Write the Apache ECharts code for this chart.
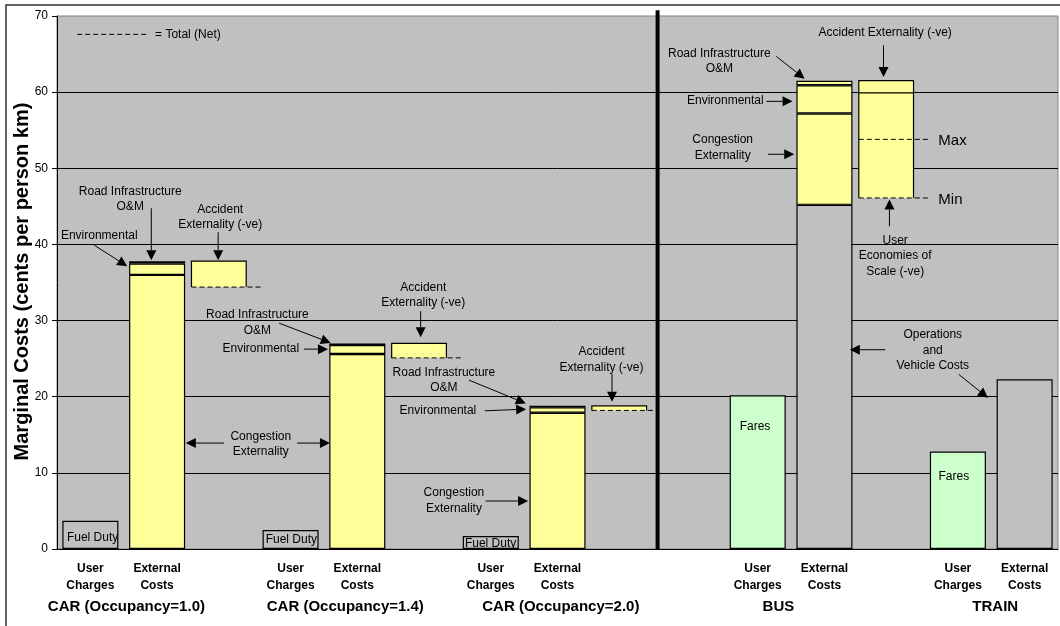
<!DOCTYPE html>
<html>
<head>
<meta charset="utf-8">
<script src="https://cdn.jsdelivr.net/npm/echarts@6/dist/echarts.min.js"></script>
<style>
  html, body { margin: 0; padding: 0; background: #fff; }
  #chart { width: 1060px; height: 626px; }
</style>
</head>
<body>
<div id="chart"></div>
<script>
// ---- data (cents per person km) ----
// Three slots per car occupancy, then an empty slot, bus (3) and train (2)
const categories = [
  'User\nCharges', 'External\nCosts', '',
  'User\nCharges', 'External\nCosts', '',
  'User\nCharges', 'External\nCosts', '',
  '',
  'User\nCharges', 'External\nCosts', '',
  'User\nCharges', 'External\nCosts'
];
const groupLabels = ['CAR (Occupancy=1.0)', 'CAR (Occupancy=1.4)', 'CAR (Occupancy=2.0)', 'BUS', 'TRAIN'];
const yTicks = [0, 10, 20, 30, 40, 50, 60, 70];

const fuelDuty      = [3.7, null, null, 2.5, null, null, 1.7, null, null, null, null, null, null, null, null];
const fares         = [null, null, null, null, null, null, null, null, null, null, 20.2, null, null, 12.8, null];
const operations    = [null, null, null, null, null, null, null, null, null, null, null, 45.2, null, null, 22.3];
const congestion    = [null, 36.0, null, null, 25.6, null, null, 17.9, null, null, null, 12.0, null, null, null];
const environmental = [null, 1.5, null, null, 1.2, null, null, 0.7, null, null, null, 3.7, null, null, null];
const roadInfra     = [null, 0.3, null, null, 0.2, null, null, 0.2, null, null, null, 0.6, null, null, null];

// deductions drawn as floating boxes beside the external-cost bars
const accidentSlots       = [2, 5, 8, 12];          // car 1.0, car 1.4, car 2.0, bus
const accidentExternality = [3.4, 1.9, 0.6, 1.6];
const busScaleEconomies   = [6.1, 13.8];            // "Max" and "Min" net cases

// ---- derived totals ----
const grossAt = i => [operations, congestion, environmental, roadInfra]
  .reduce((s, arr) => s + (arr[i] || 0), 0);

const boxes = accidentSlots.map((slot, k) => {
  const top = grossAt(slot - 1);
  const net = top - accidentExternality[k];
  if (slot === 12) {
    const netMax = net - busScaleEconomies[0];
    const netMin = net - busScaleEconomies[1];
    return { slot, top, bottom: netMin, solid: [net], dashed: [netMax, netMin] };
  }
  return { slot, top, bottom: net, solid: [], dashed: [net] };
});

const FONT = '"Liberation Sans", Arial, sans-serif';
const YELLOW = '#FFFF99', GREEN = '#CCFFCC', GREY = '#C0C0C0';

const chart = echarts.init(document.getElementById('chart'), null, { renderer: 'canvas' });

function barSeries(name, data, color) {
  return {
    name, type: 'bar', stack: 'gross', data, barWidth: '84%',
    itemStyle: { color, borderColor: '#000', borderWidth: 1.2 },
    emphasis: { disabled: true }, z: 2
  };
}

chart.setOption({
  animation: false,
  textStyle: { fontFamily: FONT },
  grid: {
    left: 57, right: 2, top: 16, bottom: 77,
    show: true, backgroundColor: GREY, borderColor: '#808080', borderWidth: 1
  },
  xAxis: {
    type: 'category', data: categories,
    axisLine: { lineStyle: { color: '#000', width: 1 } },
    axisTick: { length: 4, lineStyle: { color: '#000' } },
    axisLabel: {
      interval: 0, fontFamily: FONT, fontWeight: 'bold', fontSize: 12,
      lineHeight: 17, color: '#000', margin: 11
    },
    splitLine: { show: false }
  },
  yAxis: {
    type: 'value', min: yTicks[0], max: yTicks[yTicks.length - 1], interval: yTicks[1] - yTicks[0],
    axisLine: { show: true, lineStyle: { color: '#000', width: 1 } },
    axisTick: { show: true, length: 5, lineStyle: { color: '#000' } },
    axisLabel: { fontFamily: FONT, fontSize: 12, color: '#000', margin: 9 },
    splitLine: { show: true, showMaxLine: false, lineStyle: { color: '#000', width: 1 } }
  },
  series: [
    barSeries('Fuel Duty', fuelDuty, GREY),
    barSeries('Fares', fares, GREEN),
    barSeries('Operations and Vehicle Costs', operations, GREY),
    barSeries('Congestion Externality', congestion, YELLOW),
    barSeries('Environmental', environmental, YELLOW),
    barSeries('Road Infrastructure O&M', roadInfra, YELLOW),
    {
      name: 'Deductions', type: 'custom', coordinateSystem: 'cartesian2d', z: 3,
      data: boxes.map(b => [b.slot, b.top, b.bottom]),
      encode: { x: 0, y: [1, 2] },
      renderItem(params, api) {
        const b = boxes[params.dataIndex];
        const bw = api.size([1, 0])[0];
        const cx = api.coord([b.slot, 0])[0];
        const sepX = api.coord([8, 0])[0] + bw / 2;
        const x0 = cx - bw / 2 + 1, x1 = x0 + bw * 0.82;
        const yTop = api.coord([b.slot, b.top])[1];
        const yBot = api.coord([b.slot, b.bottom])[1];
        const kids = [
          { type: 'rect', shape: { x: x0, y: yTop, width: x1 - x0, height: yBot - yTop }, style: { fill: YELLOW } },
          { type: 'polyline', shape: { points: [[x0, yBot], [x0, yTop], [x1, yTop], [x1, yBot]] },
            style: { stroke: '#000', lineWidth: 1.2, fill: null } }
        ];
        b.solid.forEach(v => {
          const y = api.coord([b.slot, v])[1];
          kids.push({ type: 'line', shape: { x1: x0, y1: y, x2: x1, y2: y }, style: { stroke: '#000', lineWidth: 1.2 } });
        });
        b.dashed.forEach(v => {
          const y = api.coord([b.slot, v])[1];
          let xe = x0 + bw * 1.08;
          if (x0 < sepX) xe = Math.min(xe, sepX - 4);   // stop short of the divider
          kids.push({ type: 'line', shape: { x1: x0, y1: y, x2: xe, y2: y },
            style: { stroke: '#000', lineWidth: 1, lineDash: [5, 3] } });
        });
        return { type: 'group', children: kids };
      }
    }
  ]
});

// ---- annotations, placed in axis units (slot position, value) ----
const c0 = chart.convertToPixel({ gridIndex: 0 }, [0, 0]);
const c1 = chart.convertToPixel({ gridIndex: 0 }, [1, 0]);
const BW = c1[0] - c0[0];
const X0 = c0[0] - BW / 2;
function P(u, v) {
  return [X0 + u * BW, chart.convertToPixel({ gridIndex: 0 }, [0, v])[1]];
}

const notes = [
  { t: 'Road Infrastructure\nO&M', u: 1.097, v: 45.95 },
  { t: 'Accident\nExternality (-ve)', u: 2.445, v: 43.57 },
  { t: 'Environmental', u: 0.633, v: 41.2 },
  { t: 'Congestion\nExternality', u: 3.054, v: 13.75 },
  { t: 'Fuel Duty', u: 0.533, v: 1.48 },
  { t: 'Fuel Duty', u: 3.512, v: 1.18 },
  { t: 'Fuel Duty', u: 6.497, v: 0.75 },
  { t: 'Road Infrastructure\nO&M', u: 3.003, v: 29.74 },
  { t: 'Environmental', u: 3.054, v: 26.34 },
  { t: 'Accident\nExternality (-ve)', u: 5.488, v: 33.33 },
  { t: 'Road Infrastructure\nO&M', u: 5.798, v: 22.15 },
  { t: 'Environmental', u: 5.708, v: 18.11 },
  { t: 'Accident\nExternality (-ve)', u: 8.159, v: 24.85 },
  { t: 'Congestion\nExternality', u: 5.948, v: 6.36 },
  { t: 'Road Infrastructure\nO&M', u: 9.925, v: 64.07 },
  { t: 'Environmental', u: 10.015, v: 58.83 },
  { t: 'Congestion\nExternality', u: 9.975, v: 52.69 },
  { t: 'Accident Externality (-ve)', u: 12.41, v: 67.76 },
  { t: 'Max', u: 13.207, v: 53.58, left: true, size: 15 },
  { t: 'Min', u: 13.207, v: 45.89, left: true, size: 15 },
  { t: 'User\nEconomies of\nScale (-ve)', u: 12.56, v: 38.52 },
  { t: 'Operations\nand\nVehicle Costs', u: 13.123, v: 26.05 },
  { t: 'Fares', u: 10.46, v: 16.12 },
  { t: 'Fares', u: 13.439, v: 9.54 },
  { t: '= Total (Net)', u: 1.47, v: 67.6, left: true }
];

const arrows = [
  [1.413, 44.75, 1.413, 37.93],
  [2.415, 41.6, 2.415, 37.93],
  [0.558, 39.9, 1.052, 37.14],
  [2.504, 13.91, 1.93, 13.91],
  [3.597, 13.91, 4.09, 13.91],
  [3.328, 29.66, 4.102, 27.07],
  [3.702, 26.25, 4.06, 26.25],
  [5.449, 31.23, 5.449, 27.82],
  [6.173, 22.18, 7.026, 19.12],
  [6.412, 18.15, 7.03, 18.37],
  [8.317, 22.97, 8.317, 19.33],
  [6.422, 6.3, 7.06, 6.3],
  [10.778, 64.7, 11.202, 61.77],
  [10.629, 58.79, 11.022, 58.79],
  [10.653, 51.84, 11.048, 51.84],
  [12.385, 66.14, 12.385, 61.98],
  [12.474, 42.39, 12.474, 45.89],
  [12.412, 26.17, 11.88, 26.17],
  [13.513, 22.93, 13.949, 19.86]
];

const groupU = [1.04, 4.32, 7.55, 10.81, 14.06];

const els = [];
notes.forEach(n => {
  const [x, y] = P(n.u, n.v);
  els.push({
    type: 'text', x, y, z: 100, silent: true,
    style: {
      text: n.t, fontFamily: FONT, fontSize: n.size || 12, fill: '#000',
      align: n.left ? 'left' : 'center', verticalAlign: 'middle', lineHeight: 15.5
    }
  });
});
arrows.forEach(a => {
  const [x1, y1] = P(a[0], a[1]);
  const [x2, y2] = P(a[2], a[3]);
  const dx = x2 - x1, dy = y2 - y1, len = Math.hypot(dx, dy);
  const ux = dx / len, uy = dy / len, L = 10, W = 5;
  const bx = x2 - ux * L, by = y2 - uy * L;
  els.push({ type: 'line', z: 100, silent: true, shape: { x1, y1, x2: bx, y2: by }, style: { stroke: '#000', lineWidth: 1 } });
  els.push({ type: 'polygon', z: 100, silent: true,
    shape: { points: [[x2, y2], [bx - uy * W, by + ux * W], [bx + uy * W, by - ux * W]] },
    style: { fill: '#000' } });
});

// legend sample for the dashed net-total line
{
  const [xa, ya] = P(0.304, 67.59), [xb] = P(1.337, 67.59);
  els.push({ type: 'line', z: 100, silent: true, shape: { x1: xa, y1: ya, x2: xb, y2: ya },
    style: { stroke: '#000', lineWidth: 1, lineDash: [5, 3] } });
}

// heavy divider between car and public transport
{
  const [xs, yt] = P(9, 70.75), [, yb] = P(9, 0);
  els.push({ type: 'line', z: 100, silent: true, shape: { x1: xs, y1: yt, x2: xs, y2: yb },
    style: { stroke: '#000', lineWidth: 4 } });
}

// group labels under the slot labels
groupLabels.forEach((g, i) => {
  const [x, y] = P(groupU[i], -7.59);
  els.push({ type: 'text', x, y, z: 100, silent: true,
    style: { text: g, fontFamily: FONT, fontSize: 15, fontWeight: 'bold', fill: '#000',
      align: 'center', verticalAlign: 'middle' } });
});

// y-axis title
{
  const [xl, yTop] = P(0, 70), [, yBot] = P(0, 0);
  els.push({ type: 'text', x: xl - 35, y: (yTop + yBot) / 2 - 1, rotation: Math.PI / 2, z: 100, silent: true,
    style: { text: 'Marginal Costs (cents per person km)', fontFamily: FONT, fontSize: 20,
      fontWeight: 'bold', fill: '#000', align: 'center', verticalAlign: 'middle' } });
}

// outer chart frame
els.push({ type: 'rect', z: 100, silent: true, shape: { x: 6, y: 5, width: 1070, height: 640 },
  style: { fill: null, stroke: '#333', lineWidth: 1.5 } });

chart.setOption({ graphic: { elements: els } });
</script>
</body>
</html>
